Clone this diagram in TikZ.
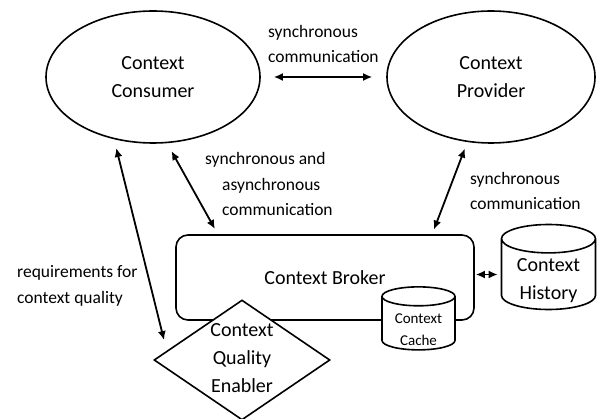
\documentclass[tikz,border=0pt]{standalone}
\usepackage{fontspec}
\setmainfont{Carlito}
\usetikzlibrary{arrows.meta, shapes.geometric}

\begin{document}
\begin{tikzpicture}[x=1pt, y=-1pt, >={Latex[length=9pt,width=8pt]},
  every node/.style={font=\fontsize{20}{28}\selectfont, align=center},
  actor/.style={draw, ellipse, line width=1.6pt, minimum width=214pt, minimum height=132pt, inner sep=0pt},
  hub/.style={draw, rectangle, rounded corners=12pt, line width=1.6pt, minimum width=298pt, minimum height=85pt},
  store/.style={draw, cylinder, shape border rotate=90, line width=1.6pt, fill=white, inner sep=0pt},
  gate/.style={draw, diamond, line width=1.6pt, fill=white, minimum width=176pt, minimum height=120pt, inner sep=0pt},
  note/.style={font=\fontsize{17.5}{25.5}\selectfont, align=left, anchor=west, inner sep=0pt},
  link/.style={line width=1.8pt}
]
\useasboundingbox (0,0) rectangle (597,419);

% Consumer and provider
\node [actor] (consumer) at (153,77) {Context\\Consumer};
\node [actor, minimum width=208pt] (provider) at (491,77) {Context\\Provider};

% The broker with its two stores
\node [hub] (broker) at (325,277.5) {Context Broker};
\node [store, minimum width=73pt, minimum height=63pt, aspect=0.4, font=\fontsize{15}{22}\selectfont,
       label={[yshift=-6pt, font=\fontsize{15}{22}\selectfont]center:Context\\Cache}] (cache) at (418.5,323.5) {\phantom{Context}};
\node [store, minimum width=94pt, minimum height=85pt, aspect=0.45,
       label={[yshift=-6pt]center:Context\\History}] (history) at (548.5,274.5) {\phantom{Context}};

% Quality enabler
\node [gate, label={[yshift=2pt]center:Context\\Quality\\Enabler}] (enabler) at (242,360) {};

% Links
\draw [<->][link, shorten <=13pt, shorten >=14pt] (consumer) -- (provider);
\draw [<->][link, shorten <=9pt, shorten >=11pt] (consumer.238) -- (enabler.173);
\draw [<->][link, shorten <=9pt, shorten >=6pt] (consumer.282) -- (broker.158);
\draw [<->][link, shorten <=7pt, shorten >=5pt] (provider.250) -- (broker.22);
\draw [<->][link, shorten <=1pt, shorten >=3pt] (history.west -| broker.east) -- (history.west);

% Link texts
\node [note] (topnote) at (268,44) {synchronous\\communication};
\node [note] (midnote) at (205,184) {synchronous and\\\hspace*{17pt}asynchronous\\\hspace*{17pt}communication};
\node [note] (rightnote) at (470,191) {synchronous\\communication};
\node [note] (leftnote) at (17,286) {requirements for\\context quality};
\end{tikzpicture}
\end{document}
